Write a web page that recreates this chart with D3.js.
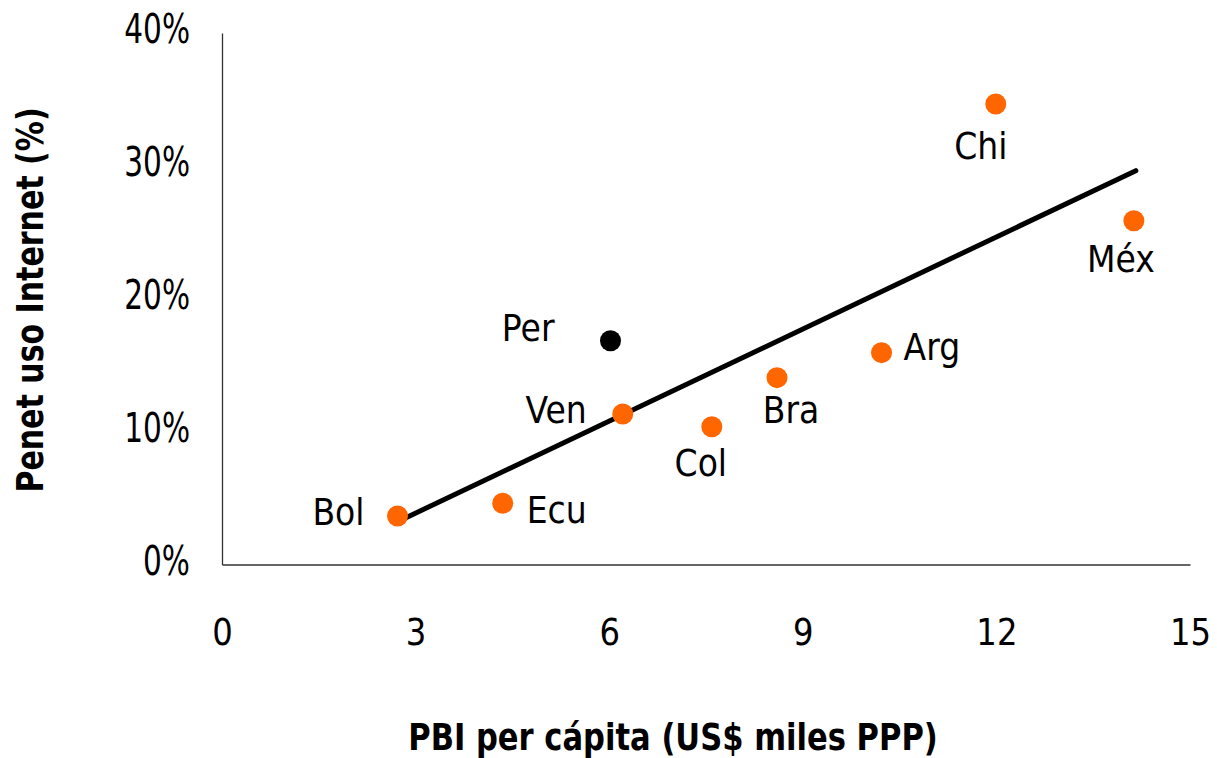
<!DOCTYPE html>
<html>
<head>
<meta charset="utf-8">
<script src="https://cdn.jsdelivr.net/npm/d3@7"></script>
<style>
  html, body { margin: 0; padding: 0; background: #fff; }
  svg { display: block; }
  text { font-family: "DejaVu Sans", sans-serif; fill: #000; }
</style>
</head>
<body>
<svg id="chart" width="1217" height="758"></svg>
<script>
// ---- Data ----
const countries = ["Bol", "Ecu", "Per", "Ven", "Col", "Bra", "Arg", "Chi", "Méx"];
const gdpPerCapita = [2.72, 4.35, 6.02, 6.21, 7.59, 8.60, 10.22, 11.99, 14.13];   // US$ miles PPP
const internetUse = [3.65, 4.61, 16.84, 11.33, 10.37, 14.06, 15.94, 34.66, 25.87]; // %
const highlighted = ["Per"];
const trendX = [2.72, 14.16];
const trendY = [3.22, 29.64];
const xTicks = [0, 3, 6, 9, 12, 15];
const yTicks = [0, 10, 20, 30, 40];
const xTitle = "PBI per cápita (US$ miles PPP)";
const yTitle = "Penet uso Internet (%)";

// ---- Layout (label placement relative to point) ----
const labelLayout = {
  "Bol": { dx: -33, dy: 9,  anchor: "end" },
  "Ecu": { dx: 24,  dy: 20, anchor: "start" },
  "Per": { dx: -56, dy: 0,  anchor: "end" },
  "Ven": { dx: -36, dy: 9,  anchor: "end" },
  "Col": { dx: -11, dy: 49, anchor: "middle" },
  "Bra": { dx: 14,  dy: 45, anchor: "middle" },
  "Arg": { dx: 22,  dy: 7,  anchor: "start" },
  "Chi": { dx: -15, dy: 55, anchor: "middle" },
  "Méx": { dx: -13, dy: 51, anchor: "middle" }
};

const svg = d3.select("#chart");
const x = d3.scaleLinear().domain([0, 15]).range([222, 1190]);
const y = d3.scaleLinear().domain([0, 40]).range([564.5, 33]);

const orange = "#FF6600";

// Axes
const xAxis = svg.append("g").attr("transform", `translate(0,${y(0)})`)
  .call(d3.axisBottom(x).tickValues(xTicks).tickSize(0).tickPadding(0).tickFormat(d3.format("d")));
xAxis.select(".domain").attr("stroke", "#333").attr("stroke-width", 1.3);
xAxis.selectAll(".tick text")
  .attr("y", 0).attr("dy", 0)
  .attr("font-size", 38)
  .attr("transform", `translate(0,80.5) scale(0.85,1)`)
  .attr("x", 0)
  .style("font-family", "DejaVu Sans");

const yAxis = svg.append("g").attr("transform", `translate(${x(0)},0)`)
  .call(d3.axisLeft(y).tickValues(yTicks).tickSize(0).tickPadding(0).tickFormat(d => d + "%"));
yAxis.select(".domain").attr("stroke", "#333").attr("stroke-width", 1.3);
yAxis.selectAll(".tick text")
  .attr("x", 0).attr("dy", 0)
  .attr("font-size", 40)
  .attr("text-anchor", "end")
  .attr("transform", `translate(-32,9.7) scale(0.74,1)`)
  .style("font-family", "DejaVu Sans");

// Trend line
const line = d3.line().x(d => x(d[0])).y(d => y(d[1]));
svg.append("path")
  .datum(d3.zip(trendX, trendY))
  .attr("d", line)
  .attr("fill", "none")
  .attr("stroke", "#000")
  .attr("stroke-width", 5)
  .attr("stroke-linecap", "round");

// Points
const pts = countries.map((c, i) => ({ name: c, gx: gdpPerCapita[i], iu: internetUse[i] }));
svg.append("g").selectAll("circle").data(pts).join("circle")
  .attr("cx", d => x(d.gx))
  .attr("cy", d => y(d.iu))
  .attr("r", 10.5)
  .attr("fill", d => highlighted.includes(d.name) ? "#000" : orange);

// Labels
svg.append("g").selectAll("text").data(pts).join("text")
  .attr("text-anchor", d => labelLayout[d.name].anchor)
  .attr("font-size", 38)
  .attr("transform", d => `translate(${x(d.gx) + labelLayout[d.name].dx},${y(d.iu) + labelLayout[d.name].dy}) scale(0.87,1)`)
  .text(d => d.name);

// Axis titles
svg.append("text")
  .attr("text-anchor", "middle")
  .attr("font-size", 38)
  .attr("font-weight", "bold")
  .attr("transform", "translate(673,750) scale(0.805,1)")
  .text(xTitle);

svg.append("text")
  .attr("text-anchor", "middle")
  .attr("font-size", 38)
  .attr("font-weight", "bold")
  .attr("transform", "translate(43,300) rotate(-90) scale(0.79,1)")
  .text(yTitle);
</script>
</body>
</html>
